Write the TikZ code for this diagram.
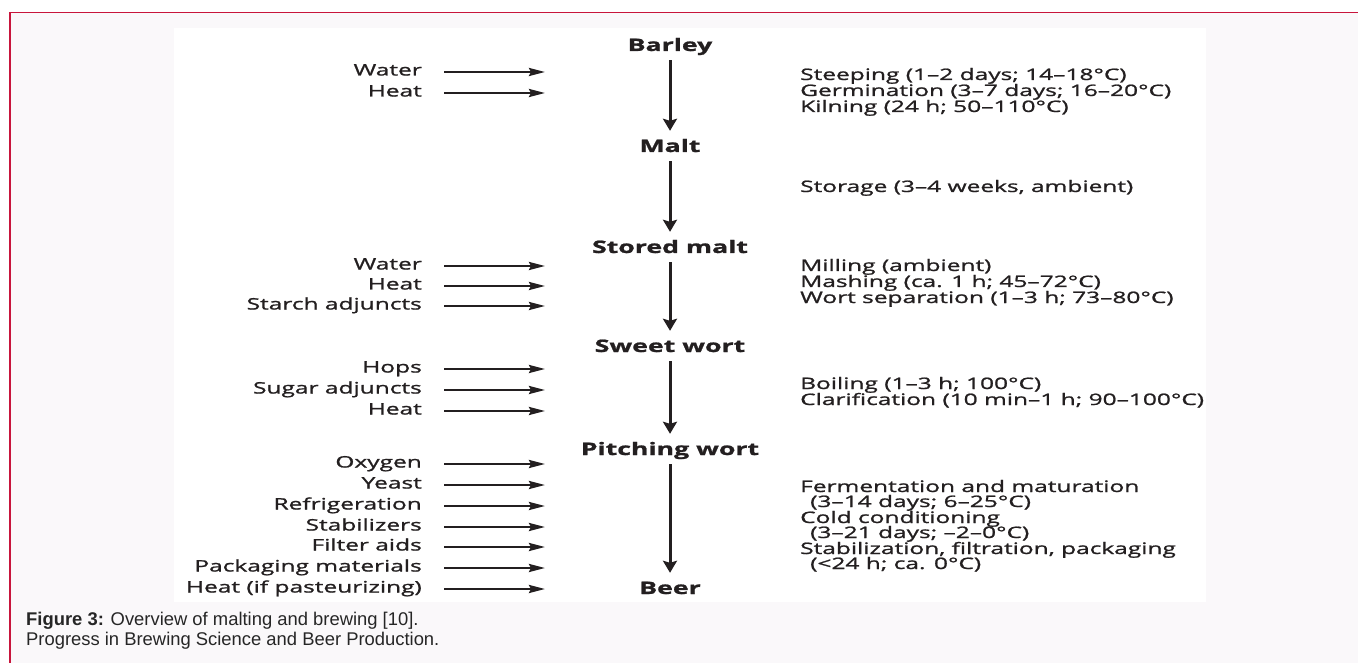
\documentclass[tikz,border=0pt]{standalone}
\usepackage{fontspec}
\setmainfont{Open Sans}[FakeStretch=1.55, FakeBold=1.2]
\newfontfamily\capfont{Liberation Sans}
\usetikzlibrary{arrows.meta}
\definecolor{ink}{HTML}{231F20}
\definecolor{framered}{HTML}{C8153C}
\definecolor{bgpage}{HTML}{FAF8FA}
\newcommand{\regfont}{\fontsize{15.8}{16}\selectfont}
\newcommand{\boldfont}{\fontsize{17.2}{18}\selectfont\bfseries}
\tikzset{
  stage/.style={font=\boldfont, text=ink, inner sep=0pt, minimum height=30pt, text height=12pt, text depth=0pt},
  mainarrow/.style={draw=ink, line width=3pt, -{Stealth[length=12pt,width=14pt,inset=2pt]}},
  inarrow/.style={draw=ink, line width=2.5pt, -{Stealth[length=16pt,width=8pt,inset=2pt]}},
  lt/.style={font=\regfont, text=ink, anchor=east, inner sep=0pt, text height=10pt, text depth=3pt},
  rt/.style={font=\regfont, text=ink, anchor=west, inner sep=0pt, text height=11pt, text depth=1pt},
  captext/.style={font=\capfont\fontsize{18.4}{20}\selectfont, text=black!85, anchor=west, inner sep=0pt, text height=13pt, text depth=4pt}
}
\newcommand{\inarr}[3]{\node[lt] (#1) at (422,#2) {#3};\coordinate (#1e) at (545,#2);\draw[inarrow] ([xshift=22pt]#1.east) -- (#1e);}
\begin{document}
\begin{tikzpicture}[x=1pt,y=-1pt]
\useasboundingbox (0,0) rectangle (1358,663);
\fill[bgpage] (10,12.5) rectangle (1358,663);
\fill[white] (174,28) rectangle (1206,602);
\draw[framered, line width=1.2pt] (10,663) -- (10,12.5) -- (1358,12.5);

% main stages
\node[stage] (barley) at (670,45) {Barley};
\node[stage] (malt) at (670,146) {Malt};
\node[stage] (stored) at (670,247) {Stored malt};
\node[stage] (sweet) at (670,346) {Sweet wort};
\node[stage] (pitch) at (670,449) {Pitching wort};
\node[stage] (beer) at (670,588) {Beer};
\draw[mainarrow] (barley) -- (malt);
\draw[mainarrow] (malt) -- (stored);
\draw[mainarrow] (stored) -- (sweet);
\draw[mainarrow] (sweet) -- (pitch);
\draw[mainarrow] (pitch) -- (beer);

% inputs
\inarr{a1}{72}{Water}
\inarr{a2}{93}{Heat}
\inarr{b1}{266}{Water}
\inarr{b2}{286}{Heat}
\inarr{b3}{306}{Starch adjuncts}
\inarr{c1}{369}{Hops}
\inarr{c2}{390}{Sugar adjuncts}
\inarr{c3}{411}{Heat}
\inarr{d1}{464}{Oxygen}
\inarr{d2}{485}{Yeast}
\inarr{d3}{506}{Refrigeration}
\inarr{d4}{527}{Stabilizers}
\inarr{d5}{547}{Filter aids}
\inarr{d6}{568}{Packaging materials}
\inarr{d7}{589}{Heat (if pasteurizing)}

% process notes
\node[rt] (p1) at (800,75) {Steeping (1--2 days; 14--18°C)};
\node[rt] (p2) at (800,91) {Germination (3--7 days; 16--20°C)};
\node[rt] (p3) at (800,107) {Kilning (24 h; 50--110°C)};
\node[rt] (q1) at (800,187) {Storage (3--4 weeks, ambient)};
\node[rt] (r1) at (800,266) {Milling (ambient)};
\node[rt] (r2) at (800,282) {Mashing (ca. 1 h; 45--72°C)};
\node[rt] (r3) at (800,298) {Wort separation (1--3 h; 73--80°C)};
\node[rt] (s1) at (800,384) {Boiling (1--3 h; 100°C)};
\node[rt] (s2) at (800,400) {Clarification (10 min--1 h; 90--100°C)};
\node[rt] (t1) at (800,487) {Fermentation and maturation};
\node[rt] (t2) at (810,502) {(3--14 days; 6--25°C)};
\node[rt] (t3) at (800,518) {Cold conditioning};
\node[rt] (t4) at (810,533) {(3--21 days; --2--0°C)};
\node[rt] (t5) at (800,549) {Stabilization, filtration, packaging};
\node[rt] (t6) at (810,564) {(<24 h; ca. 0°C)};

% caption
\node[captext] (cap1) at (26,621) {\textbf{Figure 3:} Overview of malting and brewing [10].};
\node[captext] (cap2) at (26,641) {Progress in Brewing Science and Beer Production.};
\end{tikzpicture}
\end{document}
